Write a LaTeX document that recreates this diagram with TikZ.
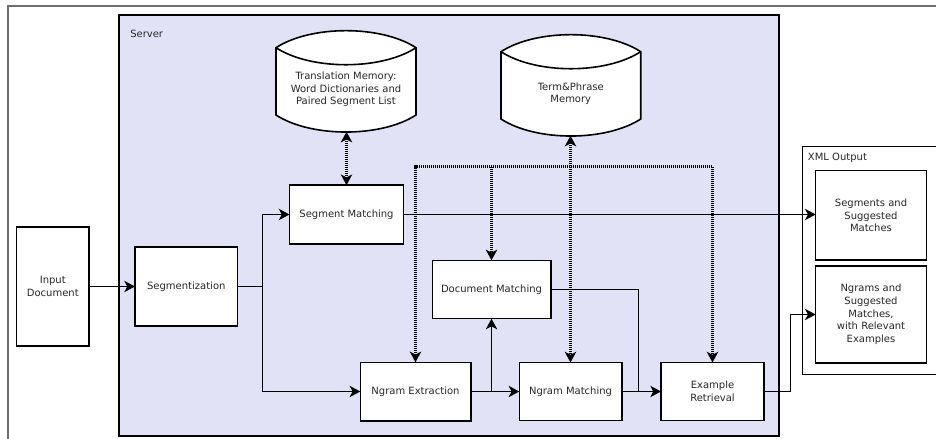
\documentclass[tikz,border=0pt]{standalone}
\usepackage{fontspec}
\setmainfont{DejaVu Sans}
\usetikzlibrary{arrows.meta}
\definecolor{serverfill}{RGB}{226,226,246}
\definecolor{txt}{RGB}{40,40,40}
\definecolor{framegray}{RGB}{110,110,110}
\begin{document}
\begin{tikzpicture}[x=0.75pt,y=-0.75pt,
  >={Stealth[length=8pt,width=8.5pt,inset=2.2pt]},
  lbl/.style={font=\fontsize{7.5}{9.5}\selectfont, text=txt, align=center},
  box/.style={lbl, draw=black, line width=1.2pt, fill=white, inner sep=0pt, outer sep=0pt},
  cont/.style={draw=black, inner sep=0pt, outer sep=0pt},
  wire/.style={line width=1.1pt},
  conn/.style={wire, ->},
  dots/.style={line width=2.2pt, dash pattern=on 0.75pt off 0.75pt},
  cylline/.style={draw=black, line width=1.2pt, fill=white}
]
\useasboundingbox (0,0) rectangle (936,439);
% outer frame
\draw[framegray, line width=1.5pt] (7.8,450) -- (7.8,5.5) -- (950,5.5);
% server container
\node[cont, line width=1.4pt, fill=serverfill, minimum width=494.8pt, minimum height=316pt] (server) at (449.15,225.35) {};
\node[lbl, anchor=west, inner sep=0pt] (serverlbl) at (130,34.3) {Server};
% XML output container
\node[cont, line width=1pt, fill=white, minimum width=110pt, minimum height=171pt, anchor=north west] (xml) at (802.3,146.3) {};
\node[lbl, anchor=west, inner sep=0pt] (xmllbl) at (807.7,158.3) {XML Output};

% Translation memory cylinder
\path[cylline] (276,47.7) .. controls (311,25) and (381,25) .. (416,47.7) -- (416,115)
  .. controls (381,137.7) and (311,137.7) .. (276,115) -- cycle;
\draw[line width=1.2pt] (276,47.7) .. controls (311,70.4) and (381,70.4) .. (416,47.7);
\node[lbl] (tm) at (346,89.5) {Translation Memory:\\Word Dictionaries and\\Paired Segment List};
\coordinate (tmb) at (346.5,131.7);

% Term & Phrase cylinder
\path[cylline] (501,51.7) .. controls (536,29) and (605.7,29) .. (640.7,51.7) -- (640.7,119)
  .. controls (605.7,141.7) and (536,141.7) .. (501,119) -- cycle;
\draw[line width=1.2pt] (501,51.7) .. controls (536,74.4) and (605.7,74.4) .. (640.7,51.7);
\node[lbl] (tp) at (570.8,93.8) {Term\&Phrase\\Memory};
\coordinate (tpb) at (570.5,135.7);

% process boxes
\node[box, minimum width=54.2pt, minimum height=89pt] (indoc) at (52.8,286.5) {Input\\Document};
\node[box, minimum width=77pt, minimum height=59.5pt] (segz) at (186.3,286.5) {Segmentization};
\node[box, minimum width=85.5pt, minimum height=44pt] (segm) at (346.5,214.5) {Segment Matching};
\node[box, minimum width=88.8pt, minimum height=43.7pt] (docm) at (491.5,289.5) {Document Matching};
\node[box, minimum width=82.8pt, minimum height=43.8pt] (ngx) at (415.5,391.5) {Ngram Extraction};
\node[box, minimum width=76.8pt, minimum height=43.5pt] (ngm) at (570.5,391.5) {Ngram Matching};
\node[box, minimum width=77.25pt, minimum height=43.5pt] (exr) at (712.5,391.5) {Example\\Retrieval};
\node[box, minimum width=83pt, minimum height=67pt] (segs) at (871,215.3) {Segments and\\Suggested\\Matches};
\node[box, minimum width=83pt, minimum height=72.5pt] (ngr) at (871,314.5) {Ngrams and\\Suggested\\Matches,\\with Relevant\\Examples};

% junction coordinates
\coordinate (j1) at (262.5,286.5);
\coordinate (j2) at (638.5,391.5);
\coordinate (j3) at (790.5,391.5);
\coordinate (hub) at (570.5,166.5);

% solid connectors
\draw[conn] (indoc.east) -- (segz.west);
\draw[conn] (segz.east) -- (j1) |- (segm.west);
\draw[conn] (j1) |- (ngx.west);
\draw[conn] (segm.east) -- (segm.east -| segs.west);
\draw[conn] (ngx.east) -- (ngm.west);
\draw[conn] (ngx.east -| docm.south) -- (docm.south);
\draw[conn] (ngm.east) -- (exr.west);
\draw[wire] (docm.east) -| (j2);
\draw[conn] (exr.east) -- (j3) |- (ngr.west);

% dotted connectors
\draw[dots,<->] (tmb) -- (segm.north);
\draw[dots,<->] (tpb) -- (ngm.north);
\draw[dots,<->] (ngx.north) -- (ngx.north |- hub) -- (exr.north |- hub) -- (exr.north);
\draw[dots,->] (docm.north |- hub) -- (docm.north);
\end{tikzpicture}
\end{document}
